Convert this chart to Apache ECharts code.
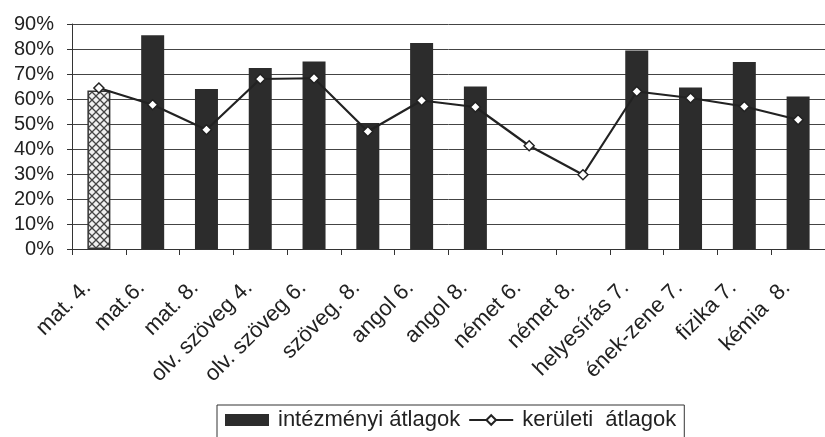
<!DOCTYPE html>
<html>
<head>
<meta charset="utf-8">
<script src="https://cdn.jsdelivr.net/npm/echarts@6/dist/echarts.min.js"></script>
<style>
html,body{margin:0;padding:0;background:#fff;}
#chart{width:825px;height:437px;}
</style>
</head>
<body>
<div id="chart"></div>
<script>
const categories = ['mat. 4.', 'mat.6.', 'mat. 8.', 'olv. szöveg 4.', 'olv. szöveg 6.', 'szöveg. 8.', 'angol 6.', 'angol 8.', 'német 6.', 'német 8.', 'helyesírás 7.', 'ének-zene 7.', 'fizika 7.', 'kémia  8.'];
const intezmenyi = [63.4, 85.5, 64, 72.4, 75, 50.4, 82.4, 65, null, null, 79.4, 64.6, 74.8, 61];
const keruleti = [64.4, 57.7, 47.7, 68, 68.3, 47, 59.4, 56.8, 41.3, 29.7, 63, 60.4, 57, 51.7];
const yTicks = [0, 10, 20, 30, 40, 50, 60, 70, 80, 90];
const seriesNames = ['intézményi átlagok', 'kerületi átlagok'];

function hatch() {
  const c = document.createElement('canvas');
  c.width = 8; c.height = 8;
  const g = c.getContext('2d');
  g.fillStyle = '#f0f0f0';
  g.fillRect(0, 0, 8, 8);
  g.strokeStyle = '#444';
  g.lineWidth = 1.3;
  g.beginPath();
  g.moveTo(0, 0); g.lineTo(8, 8);
  g.moveTo(8, 0); g.lineTo(0, 8);
  g.stroke();
  return c;
}

const barData = intezmenyi.map((v, i) => {
  if (i === 0) {
    return { value: v, itemStyle: { color: { image: hatch(), repeat: 'repeat' }, borderColor: '#333', borderWidth: 1.5 } };
  }
  return v;
});

const font = 'Liberation Sans, Arial, sans-serif';
const chart = echarts.init(document.getElementById('chart'), null, { renderer: 'canvas' });
chart.setOption({
  animation: false,
  backgroundColor: '#fff',
  grid: { left: 72, right: 0, top: 24, bottom: 188, containLabel: false },
  legend: {
    left: 217, top: 405,
    padding: [4, 8, 8, 8],
    borderColor: '#333', borderWidth: 1,
    itemWidth: 44, itemHeight: 12, itemGap: 8,
    formatter: name => name === seriesNames[1] ? 'kerületi  átlagok' : name,
    textStyle: { fontFamily: font, fontSize: 22, color: '#222', padding: [0, 0, 0, 4] },
    data: [
      { name: seriesNames[0], icon: 'rect' },
      { name: seriesNames[1] }
    ]
  },
  xAxis: {
    type: 'category',
    data: categories,
    boundaryGap: true,
    axisLine: { lineStyle: { color: '#333', width: 1 } },
    axisTick: { show: true, length: 6, lineStyle: { color: '#333' } },
    axisLabel: { rotate: 45, margin: 24, padding: [0, 16, 0, 0], interval: 0, fontFamily: font, fontSize: 22, color: '#222' }
  },
  yAxis: {
    type: 'value',
    min: yTicks[0], max: yTicks[yTicks.length - 1], interval: 10,
    axisLine: { show: true, lineStyle: { color: '#333', width: 1 } },
    axisTick: { show: true, length: 5, lineStyle: { color: '#333' } },
    axisLabel: { formatter: '{value}%', margin: 18, fontFamily: font, fontSize: 20, color: '#222' },
    splitLine: { show: true, lineStyle: { color: '#444', width: 1 } }
  },
  series: [
    {
      name: seriesNames[0],
      type: 'bar',
      data: barData,
      barWidth: 23,
      itemStyle: { color: '#2c2c2c' }
    },
    {
      name: seriesNames[1],
      type: 'line',
      data: keruleti,
      symbol: 'diamond',
      symbolSize: 10,
      lineStyle: { color: '#222', width: 2.2 },
      itemStyle: { color: '#fff', borderColor: '#222', borderWidth: 1.5 },
      z: 5
    }
  ]
});
</script>
</body>
</html>
